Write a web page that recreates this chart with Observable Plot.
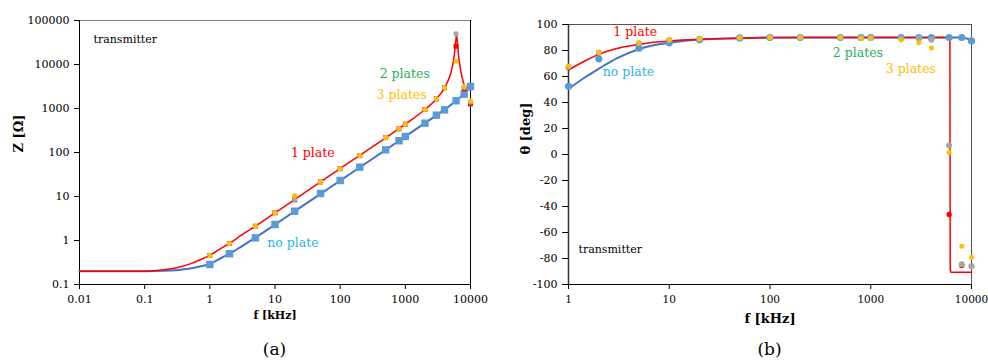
<!DOCTYPE html>
<html><head><meta charset="utf-8">
<script src="https://cdn.jsdelivr.net/npm/d3@7"></script>
<script src="https://cdn.jsdelivr.net/npm/@observablehq/plot@0.6"></script>
<style>
body{margin:0;background:#fff;font-family:"DejaVu Serif";}
#wrap{position:relative;width:988px;height:360px;}
.panel{position:absolute;top:0;}
.cap{position:absolute;top:338px;font-size:17px;text-align:center;line-height:22px;color:#000;font-family:"DejaVu Serif";}
</style></head><body>
<div id="wrap">
  <div id="a" class="panel" style="left:0"></div>
  <div id="b" class="panel" style="left:500px"></div>
  <div class="cap" style="left:79px;width:391px">(a)</div>
  <div class="cap" style="left:568px;width:403px">(b)</div>
</div>
<script>
// ---------- data ----------
const freqs = [1,2,5,10,20,50,100,200,500,800,1000,2000,3000,4000,6000,8000,10000];

// impedance magnitude Z [Ω]
const zNoPlate = [0.285,0.50,1.15,2.31,4.63,11.7,23.1,46.4,115,185,231,464,705,933,1500,2110,3160];
const z1Plate  = [0.457,0.855,2.11,4.26,8.4,21.5,43,85,218,345,440,948,1660,2950,26000,2800,1280];
const z2Plates = [0.457,0.855,2.11,4.26,8.6,21.5,43,85,218,345,440,948,1660,2950,50000,3000,1400];
const z3Plates = [0.457,0.855,2.11,4.26,10.5,21.5,43,85,218,345,440,948,1660,2950,11900,3210,1510];

// fitted curves for Z
const zLineF0 = [0.01,0.05,0.1,0.2,0.3,0.5,0.7,1,1.5,2,3,5,10,20,50,100,200,500,1000,2000,3000,4000,6000,8000,10000];
const zLine0  = [0.2,0.2,0.2,0.205,0.212,0.231,0.257,0.295,0.40,0.50,0.72,1.16,2.3,4.6,11.5,23,46,115,232,465,705,940,1500,2150,3150];
const zLineF1 = [0.01,0.05,0.1,0.2,0.3,0.5,0.7,1,1.5,2,3,5,10,20,50,100,200,500,1000,2000,3000,4000,4500,5000,5500,5800,6000,6100,6250,6500,7000,7500,8000,9000,10000];
const zLine1  = [0.2,0.2,0.201,0.217,0.238,0.294,0.36,0.46,0.67,0.86,1.3,2.12,4.25,8.5,21.5,43,86,216,440,950,1650,2950,4200,6500,12500,24000,40000,48000,36000,18000,8000,4800,3500,2900,2600];

// phase θ [deg]
const thetaNoPlate = [52.5,73.6,81.8,85.9,88.2,89.7,90,90,90,90,90,90,90,90,90,90,87.4];
const theta1Plate  = [67,78,85,88,89,90,90,90,90,90,90,90,90,89.5,-46.2,-85.4,-86];
const theta2Plates = [67.5,78.5,85.5,88,89,89.8,90,90,90,89.8,89.8,89.5,89.5,88.2,6.9,-84.4,-86];
const theta3Plates = [67.9,78.7,85.9,88.2,89,89.9,90,90,90,89.5,89.5,88,86,82,1.8,-70.5,-79];

const tLineF0 = [1,1.5,2,3,5,7,10,20,50,100,1000,8000,10000];
const tLine0  = [50.5,60,66,74,81,84,86,88.5,89.5,90,90,90,88];
const tLineF1 = [1,1.5,2,3,5,7,10,20,50,100,1000,5900,6100,6150,6250,10000];
const tLine1  = [65,72.5,77,81.5,84.7,86.3,87.4,88.7,89.5,89.8,90,90,90,-88,-90.5,-90.5];

// ticks
const xTicksA = [0.01,0.1,1,10,100,1000,10000];
const yTicksA = [0.1,1,10,100,1000,10000,100000];
const xTicksB = [1,10,100,1000,10000];
const yTicksB = [-100,-80,-60,-40,-20,0,20,40,60,80,100];

// annotation labels (text + anchor in data units)
const seriesNames = ["no plate","1 plate","2 plates","3 plates"];
const labelFA = [18.8, 38, 980, 880];
const labelZA = [0.855, 100, 6240, 2080];
const labelFB = [3.93, 4.6, 745, 2500];
const labelTB = [63.8, 94.6, 77.7, 65.4];
const noteText = "transmitter";

// ---------- styles ----------
const C = {line0:"#4472C4", dot0:"#5B9BD5", red:"#FF0000", grey:"#A5A5A5", orange:"#FFC000"};
const labelColor = {"no plate":"#29B6EA","1 plate":"#FF0000","2 plates":"#1FAF5A","3 plates":"#FFC000"};
const FF = "DejaVu Serif";
const style = {fontFamily:FF, fontSize:"11px", background:"#fff", color:"#000", overflow:"visible"};

const pts = (xs, ys) => xs.map((x,i)=>({x, y: ys[i]}));
const labels = (fs, vs) => seriesNames.map((s,i)=>({s, x: fs[i], y: vs[i]}));
const fmt = d => String(d);

// ---------- panel (a) ----------
const plotA = Plot.plot({
  width: 500, height: 336,
  marginLeft: 79, marginRight: 30, marginTop: 20, marginBottom: 52,
  style,
  x: {type:"log", domain:[0.01,10000]},
  y: {type:"log", domain:[0.1,100000]},
  marks: [
    Plot.frame({stroke:"#808080"}),
    Plot.ruleX([0.01], {stroke:"#000"}),
    Plot.ruleY([0.1], {stroke:"#000"}),
    Plot.ruleX([10000], {stroke:"#000"}),
    Plot.axisX({ticks:xTicksA, tickFormat:fmt, tickSize:5, tickPadding:6, label:null, fontSize:11, fontFamily:FF}),
    Plot.axisY({ticks:yTicksA, tickFormat:fmt, tickSize:5, tickPadding:5, label:null, fontSize:11, fontFamily:FF}),
    Plot.line(pts(zLineF0, zLine0), {x:"x", y:"y", stroke:C.line0, strokeWidth:2, curve:"monotone-x"}),
    Plot.line(pts(zLineF1, zLine1), {x:"x", y:"y", stroke:C.red, strokeWidth:1.5, curve:"monotone-x"}),
    Plot.dot(pts(freqs, zNoPlate), {x:"x", y:"y", symbol:"square", r:4.2, fill:C.dot0}),
    Plot.dot(pts(freqs, z1Plate), {x:"x", y:"y", symbol:"square", r:2.8, fill:C.red}),
    Plot.dot(pts(freqs, z2Plates), {x:"x", y:"y", r:2.6, fill:C.grey}),
    Plot.dot(pts(freqs, z3Plates), {x:"x", y:"y", r:2.5, fill:C.orange}),
    Plot.text(labels(labelFA, labelZA), {x:"x", y:"y", text:"s", fill:d=>labelColor[d.s], fontSize:12.5, fontFamily:FF}),
    Plot.text([noteText], {x:[0.0164], y:[37000], text:d=>d, textAnchor:"start", fontSize:11, fill:"#000", fontFamily:FF}),
    Plot.text(["f [kHz]"], {frameAnchor:"bottom", dy:34, fontWeight:"bold", fontSize:11, fill:"#000", fontFamily:FF}),
    Plot.text(["Z [Ω]"], {frameAnchor:"left", dx:-61, rotate:-90, fontWeight:"bold", fontSize:13, fill:"#000", fontFamily:FF})
  ]
});
document.getElementById("a").appendChild(plotA);

// ---------- panel (b) ----------
const plotB = Plot.plot({
  width: 488, height: 336,
  marginLeft: 68, marginRight: 17, marginTop: 24, marginBottom: 52,
  style,
  x: {type:"log", domain:[1,10000]},
  y: {domain:[-100,100]},
  marks: [
    Plot.frame({stroke:"#555"}),
    Plot.ruleX([1], {stroke:"#333", strokeWidth:1.5}),
    Plot.ruleY([-100], {stroke:"#000"}),
    Plot.axisX({ticks:xTicksB, tickFormat:fmt, tickSize:5, tickPadding:6, label:null, fontSize:10.5, fontFamily:FF}),
    Plot.axisY({ticks:yTicksB, tickFormat:fmt, tickSize:6, tickPadding:5, label:null, fontSize:11, fontFamily:FF}),
    Plot.line(pts(tLineF0, tLine0), {x:"x", y:"y", stroke:C.line0, strokeWidth:2, curve:"monotone-x"}),
    Plot.line(pts(tLineF1, tLine1), {x:"x", y:"y", stroke:C.red, strokeWidth:1.5, curve:"monotone-x"}),
    Plot.dot(pts(freqs, theta1Plate), {x:"x", y:"y", r:2.7, fill:C.red}),
    Plot.dot(pts(freqs, thetaNoPlate), {x:"x", y:"y", r:3.6, fill:C.dot0}),
    Plot.dot(pts(freqs, theta2Plates), {x:"x", y:"y", r:3, fill:C.grey}),
    Plot.dot(pts(freqs, theta3Plates), {x:"x", y:"y", r:2.5, fill:C.orange}),
    Plot.text(labels(labelFB, labelTB), {x:"x", y:"y", text:"s", fill:d=>labelColor[d.s], fontSize:12.5, fontFamily:FF}),
    Plot.text([noteText], {x:[1.256], y:[-73], text:d=>d, textAnchor:"start", fontSize:11, fill:"#000", fontFamily:FF}),
    Plot.text(["f [kHz]"], {frameAnchor:"bottom", dy:38, fontWeight:"bold", fontSize:13, fill:"#000", fontFamily:FF}),
    Plot.text(["θ [deg]"], {frameAnchor:"left", dx:-43, rotate:-90, fontWeight:"bold", fontSize:13, fill:"#000", fontFamily:FF})
  ]
});
document.getElementById("b").appendChild(plotB);
</script>
</body></html>
